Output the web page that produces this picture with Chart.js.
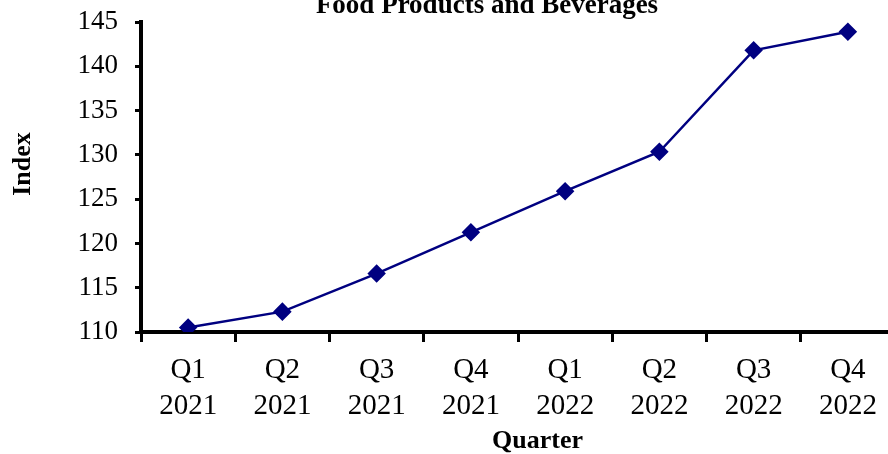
<!DOCTYPE html>
<html>
<head>
<meta charset="utf-8">
<script src="https://cdn.jsdelivr.net/npm/chart.js@4.4.0/dist/chart.umd.min.js"></script>
<style>
  html, body { margin: 0; padding: 0; background: #fff; overflow: hidden; }
  #wrap { position: relative; width: 888px; height: 454px; overflow: hidden; }
  #box { position: absolute; left: 0; top: 0; width: 960px; height: 454px; }
</style>
</head>
<body>
<div id="wrap"><div id="box"><canvas id="chart"></canvas></div></div>
<script>
// --- data ---
const quarters = [['Q1', '2021'], ['Q2', '2021'], ['Q3', '2021'], ['Q4', '2021'],
                  ['Q1', '2022'], ['Q2', '2022'], ['Q3', '2022'], ['Q4', '2022']];
const indexValues = [110.5, 112.3, 116.6, 121.25, 125.9, 130.35, 141.8, 143.9];
const yMin = 110;
const yMax = 145;
const yStep = 5;

const chartTitle = 'Food Products and Beverages';
const navy = '#000080';
const serif = "'Liberation Serif', 'Times New Roman', serif";
const nb = '\u00a0';

// title is drawn by hand so it can sit off-centre and be clipped at the top, like the original
const titlePlugin = {
    id: 'topTitle',
    afterDraw(chart) {
        const c = chart.ctx;
        c.save();
        c.font = 'bold 27px ' + serif;
        c.fillStyle = '#000';
        c.textAlign = 'center';
        c.textBaseline = 'alphabetic';
        c.fillText(chartTitle, 487, 13);
        c.restore();
    }
};

const ctx = document.getElementById('chart').getContext('2d');
new Chart(ctx, {
    type: 'line',
    data: {
        labels: quarters,
        datasets: [{
            data: indexValues,
            borderColor: navy,
            borderWidth: 2.5,
            backgroundColor: navy,
            pointStyle: 'rectRot',
            pointRadius: 7.5,
            pointHoverRadius: 7.5,
            pointBackgroundColor: navy,
            pointBorderColor: navy,
            tension: 0,
            fill: false
        }]
    },
    options: {
        responsive: true,
        maintainAspectRatio: false,
        animation: false,
        layout: { padding: { top: 22, right: 65, left: 0, bottom: 0 } },
        plugins: {
            legend: { display: false },
            title: { display: false },
            tooltip: { enabled: false }
        },
        scales: {
            x: {
                offset: true,
                grid: {
                    offset: true,
                    drawOnChartArea: false,
                    drawTicks: true,
                    tickLength: 10,
                    tickWidth: 3,
                    tickColor: '#000'
                },
                border: { display: true, color: '#000', width: 4 },
                ticks: {
                    color: '#000',
                    font: { family: serif, size: 29, lineHeight: 1.24 },
                    padding: 10,
                    maxRotation: 0,
                    autoSkip: false
                },
                title: {
                    display: true,
                    text: nb.repeat(6) + 'Quarter',
                    color: '#000',
                    font: { family: serif, size: 26, weight: 'bold', lineHeight: 1.0 },
                    padding: { top: 0, bottom: 0 }
                },
                afterFit(scale) {
                    scale.height = 122;
                    scale.paddingLeft = 0;
                    scale.paddingRight = 0;
                }
            },
            y: {
                min: yMin,
                max: yMax,
                grid: {
                    drawOnChartArea: false,
                    drawTicks: true,
                    tickLength: 6,
                    tickWidth: 3,
                    tickColor: '#000'
                },
                border: { display: true, color: '#000', width: 4 },
                ticks: {
                    stepSize: yStep,
                    color: '#000',
                    font: { family: serif, size: 27 },
                    padding: 17
                },
                title: {
                    display: true,
                    text: nb.repeat(4) + 'Index',
                    color: '#000',
                    font: { family: serif, size: 26, weight: 'bold', lineHeight: 1.2 },
                    padding: { top: 8, bottom: 0 }
                },
                afterFit(scale) {
                    scale.width = 141;
                    scale.paddingTop = 0;
                    scale.paddingBottom = 0;
                }
            }
        }
    },
    plugins: [titlePlugin]
});
</script>
</body>
</html>
